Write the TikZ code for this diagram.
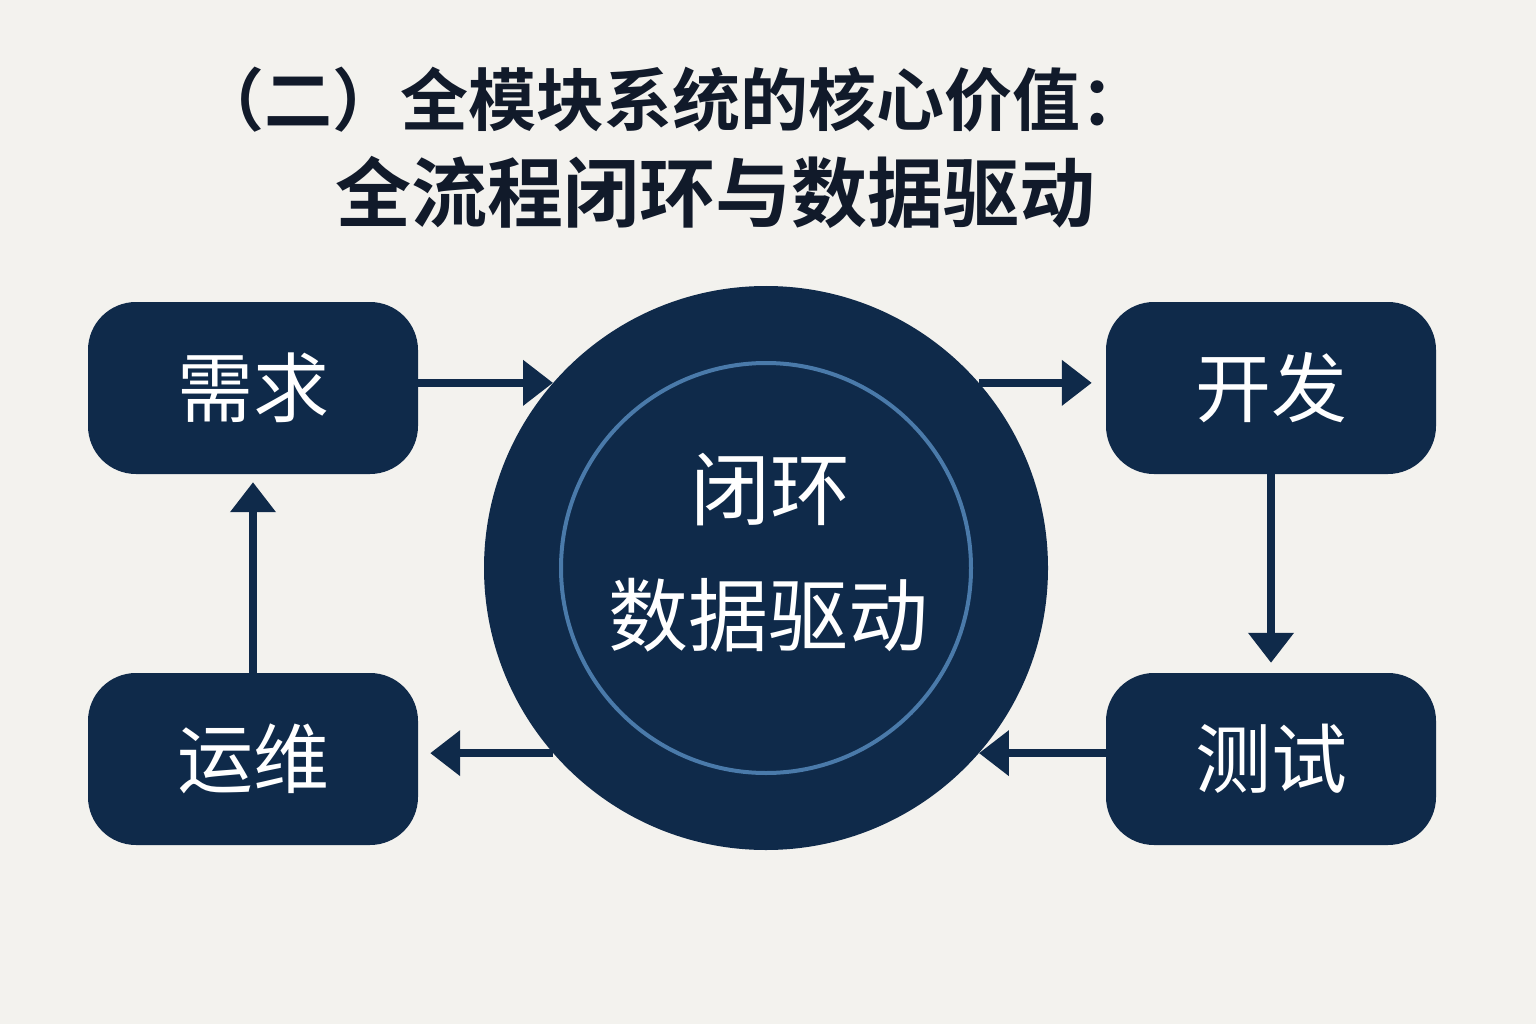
\documentclass[tikz,border=0pt]{standalone}
\usepackage{fontspec}
\newfontfamily\cjk{Noto Sans CJK SC}
\newfontfamily\cjkb{Noto Sans CJK SC Bold}
\usetikzlibrary{arrows.meta}
\definecolor{bg}{HTML}{F3F2EE}
\definecolor{navy}{HTML}{0F2A4A}
\definecolor{ring}{HTML}{4A7AAA}
\definecolor{ttl}{HTML}{111A2A}
\tikzset{
  box/.style={fill=navy,rounded corners=48pt,minimum width=330pt,minimum height=172pt,text=white,font=\cjk\fontsize{76}{80}\selectfont},
  flow/.style={draw=navy,line width=8pt,-{Triangle[length=30pt,width=44pt]}}
}
\begin{document}
\begin{tikzpicture}[x=1pt,y=-1pt]
\fill[bg] (0,0) rectangle (1536,1024);
\useasboundingbox (0,0) rectangle (1536,1024);
\node[text=ttl,font=\cjkb\fontsize{68}{72}\selectfont] (t1) at (672,100) {（二）全模块系统的核心价值：};
\node[text=ttl,font=\cjkb\fontsize{76}{80}\selectfont] (t2) at (715,192) {全流程闭环与数据驱动};
\node[circle,fill=navy,minimum size=564pt,inner sep=0] (circ) at (766,568) {};
\node[circle,draw=ring,line width=4pt,minimum size=410pt,inner sep=0] (ring) at (766,568) {};
\node[text=white,font=\cjk\fontsize{80}{84}\selectfont] (c1) at (770,490) {闭环};
\node[text=white,font=\cjk\fontsize{80}{84}\selectfont] (c2) at (768,615) {数据驱动};
\node[box] (a) at (253,388) {需求};
\node[box] (b) at (1271,388) {开发};
\node[box] (c) at (1271,759) {测试};
\node[box] (d) at (253,759) {运维};
\draw[flow] (circ.139 -| a.east) -- (circ.139);
\draw[flow] (circ.41) -- ([xshift=-14pt]circ.41 -| b.west);
\draw[flow] (b.south) -- ([yshift=10pt]c.north);
\draw[flow] (circ.-41 -| c.west) -- (circ.-41);
\draw[flow] (circ.221) -- ([xshift=12pt]circ.221 -| d.east);
\draw[flow] (d.north) -- ([yshift=-8pt]a.south);
\end{tikzpicture}
\end{document}
